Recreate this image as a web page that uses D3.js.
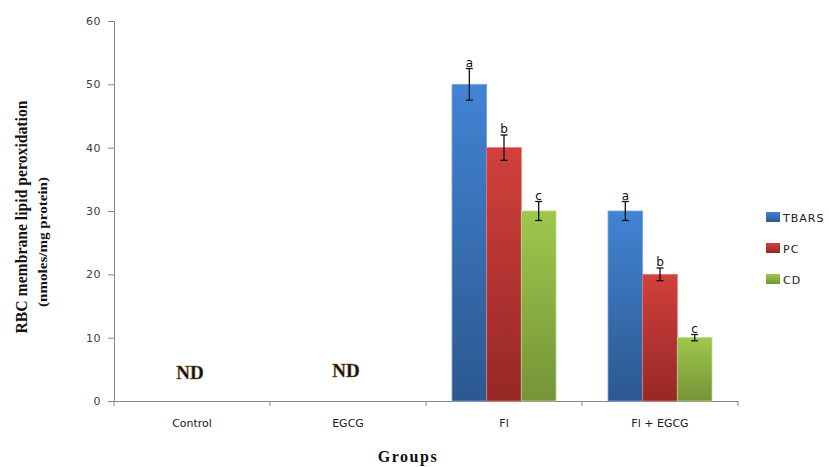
<!DOCTYPE html>
<html>
<head>
<meta charset="utf-8">
<script src="https://cdn.jsdelivr.net/npm/d3@7"></script>
<style>
  body { margin: 0; background: #fff; }
  svg text { font-family: "DejaVu Sans", Verdana, sans-serif; }
</style>
</head>
<body>
<div id="chart"></div>
<script>
const groups = ["Control", "EGCG", "Fl", "Fl + EGCG"];
const seriesNames = ["TBARS", "PC", "CD"];
// null = not detected
const tbars = [null, null, 50, 30];
const pc = [null, null, 40, 20];
const cd = [null, null, 30, 10];
const tbarsErr = [null, null, 2.5, 1.5];
const pcErr = [null, null, 2, 1];
const cdErr = [null, null, 1.5, 0.5];
const sigLetters = ["a", "b", "c"];
const yTicks = [0, 10, 20, 30, 40, 50, 60];

const values = [tbars, pc, cd];
const errors = [tbarsErr, pcErr, cdErr];
const colors = [
  { top: "#4283d3", bottom: "#2c5890", edge: "#7aa3dc" },
  { top: "#d1403d", bottom: "#962826", edge: "#dc7a78" },
  { top: "#9ec84c", bottom: "#759438", edge: "#b9d884" }
];

const width = 829, height = 467;
const margin = { left: 114, right: 91, top: 21, bottom: 66 };

const svg = d3.select("#chart").append("svg")
  .attr("width", width)
  .attr("height", height);

const defs = svg.append("defs");
colors.forEach(function (c, i) {
  const g = defs.append("linearGradient")
    .attr("id", "grad" + i)
    .attr("x1", 0).attr("y1", 0).attr("x2", 0).attr("y2", 1);
  g.append("stop").attr("offset", "0%").attr("stop-color", c.top);
  g.append("stop").attr("offset", "100%").attr("stop-color", c.bottom);
});

const xScale = d3.scaleBand()
  .domain(groups)
  .range([margin.left, width - margin.right])
  .paddingInner(0)
  .paddingOuter(0);

const xInner = d3.scaleBand()
  .domain(seriesNames)
  .range([0, xScale.bandwidth()])
  .paddingOuter(0.75)
  .paddingInner(0);

const yScale = d3.scaleLinear()
  .domain([0, 60])
  .range([height - margin.bottom, margin.top]);

// y axis
const axisY = d3.axisLeft(yScale).tickValues(yTicks).tickSize(6).tickPadding(7);
const gy = svg.append("g")
  .attr("transform", "translate(" + margin.left + ",0)")
  .call(axisY);
gy.selectAll("path, line").attr("stroke", "#868686");
gy.selectAll("text").attr("font-size", 11).attr("fill", "#404040")
  .style("letter-spacing", "0.5px");

// x axis
const axisX = d3.axisBottom(xScale).tickSize(0).tickPadding(18);
const gx = svg.append("g")
  .attr("transform", "translate(0," + yScale(0) + ")")
  .call(axisX);
gx.select(".domain").attr("stroke", "#868686");
gx.selectAll("text").attr("font-size", 11).attr("fill", "#202020");
// group boundary ticks
gx.selectAll(".bound")
  .data(d3.range(groups.length + 1))
  .enter().append("line")
  .attr("x1", function (i) { return margin.left + i * xScale.step(); })
  .attr("x2", function (i) { return margin.left + i * xScale.step(); })
  .attr("y1", 0).attr("y2", 5)
  .attr("stroke", "#868686");

// bars
const rows = [];
groups.forEach(function (g, gi) {
  seriesNames.forEach(function (s, si) {
    if (values[si][gi] !== null) {
      rows.push({ group: g, series: s, si: si, value: values[si][gi], err: errors[si][gi] });
    }
  });
});

svg.append("g").selectAll("rect")
  .data(rows)
  .enter().append("rect")
  .attr("x", function (d) { return xScale(d.group) + xInner(d.series); })
  .attr("y", function (d) { return yScale(d.value); })
  .attr("width", xInner.bandwidth())
  .attr("height", function (d) { return yScale(0) - yScale(d.value); })
  .attr("fill", function (d) { return "url(#grad" + d.si + ")"; })
  .attr("stroke", function (d) { return colors[d.si].edge; })
  .attr("stroke-width", 0.8);

// error bars
const eb = svg.append("g").attr("stroke", "#111").attr("stroke-width", 1.3);
rows.forEach(function (d) {
  const cx = xScale(d.group) + xInner(d.series) + xInner.bandwidth() / 2;
  const y1 = yScale(d.value + d.err), y2 = yScale(d.value - d.err);
  eb.append("line").attr("x1", cx).attr("x2", cx).attr("y1", y1).attr("y2", y2);
  eb.append("line").attr("x1", cx - 3.5).attr("x2", cx + 3.5).attr("y1", y1).attr("y2", y1);
  eb.append("line").attr("x1", cx - 3.5).attr("x2", cx + 3.5).attr("y1", y2).attr("y2", y2);
});

// significance letters
svg.append("g").selectAll("text")
  .data(rows)
  .enter().append("text")
  .attr("x", function (d) { return xScale(d.group) + xInner(d.series) + xInner.bandwidth() / 2; })
  .attr("y", function (d) { return yScale(d.value + d.err) - 2; })
  .attr("text-anchor", "middle")
  .attr("font-size", 12)
  .attr("fill", "#111")
  .text(function (d) { return sigLetters[d.si]; });

// ND labels for groups without data
const ndGroups = groups.filter(function (g, gi) { return tbars[gi] === null; });
svg.append("g").selectAll("text")
  .data(ndGroups)
  .enter().append("text")
  .attr("x", function (g) { return xScale(g) + xScale.bandwidth() / 2 - 2; })
  .attr("y", function (g, i) { return yScale(0) - 22 - i * 2; })
  .attr("text-anchor", "middle")
  .style("font-family", "'Liberation Serif', 'Times New Roman', serif")
  .attr("font-weight", "bold")
  .attr("font-size", 19)
  .attr("fill", "#111")
  .attr("stroke", "#8a5a20")
  .attr("stroke-width", 0.4)
  .text("ND");

// legend
const legend = svg.append("g").attr("transform", "translate(766,212)");
seriesNames.forEach(function (s, i) {
  const row = legend.append("g").attr("transform", "translate(0," + i * 31 + ")");
  row.append("rect").attr("width", 14).attr("height", 10)
    .attr("fill", "url(#grad" + i + ")");
  row.append("text").attr("x", 17).attr("y", 9.5)
    .attr("font-size", 11).attr("fill", "#202020")
    .style("letter-spacing", "1px")
    .text(s);
});

// axis titles
svg.append("text")
  .attr("transform", "translate(27,217) rotate(-90)")
  .attr("text-anchor", "middle")
  .style("font-family", "'Liberation Serif', 'Times New Roman', serif")
  .attr("font-weight", "bold")
  .attr("font-size", 17)
  .attr("textLength", 233)
  .attr("lengthAdjust", "spacingAndGlyphs")
  .attr("fill", "#111")
  .text("RBC membrane lipid peroxidation");

svg.append("text")
  .attr("transform", "translate(47,242) rotate(-90)")
  .attr("text-anchor", "middle")
  .style("font-family", "'Liberation Serif', 'Times New Roman', serif")
  .attr("font-weight", "bold")
  .attr("font-size", 13)
  .attr("textLength", 130)
  .attr("lengthAdjust", "spacingAndGlyphs")
  .attr("fill", "#111")
  .text("(nmoles/mg protein)");

svg.append("text")
  .attr("x", 408)
  .attr("y", 462)
  .attr("text-anchor", "middle")
  .style("font-family", "'Liberation Serif', 'Times New Roman', serif")
  .attr("font-weight", "bold")
  .attr("font-size", 16)
  .style("letter-spacing", "1.5px")
  .attr("fill", "#111")
  .text("Groups");
</script>
</body>
</html>
